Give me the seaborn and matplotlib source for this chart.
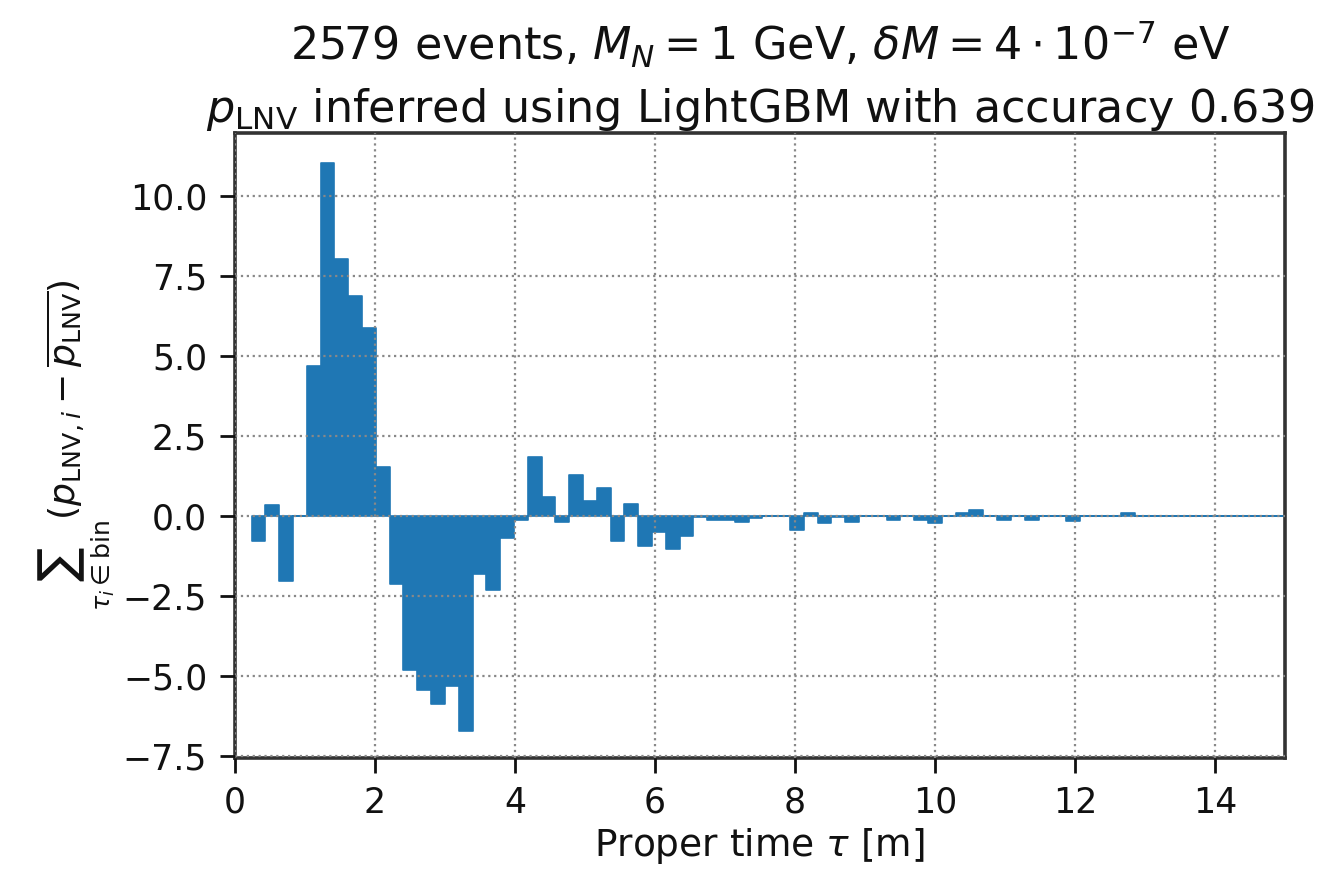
import numpy as np
import pandas as pd
import matplotlib
matplotlib.use("Agg")
import matplotlib.pyplot as plt
import seaborn as sns

# ---- data ----
tau_min = 0.238
tau_max = 15.03
n_bins = 75
bin_sums = [
    -0.80, 0.35, -2.04, 0.00, 4.68, 11.03, 8.03, 6.86, 5.87, 1.52,
    -2.15, -4.81, -5.46, -5.90, -5.32, -6.72, -1.82, -2.31, -0.70, -0.12,
    1.85, 0.60, -0.20, 1.28, 0.45, 0.87, -0.80, 0.36, -0.96, -0.51,
    -1.04, -0.62, -0.03, -0.12, -0.12, -0.21, -0.08, 0.00, 0.00, -0.46,
    0.08, -0.22, -0.05, -0.20, 0.00, 0.00, -0.13, 0.00, -0.12, -0.22,
    0.00, 0.08, 0.18, 0.00, -0.13, 0.00, -0.13, 0.00, 0.00, -0.15,
    0.00, 0.00, 0.00, 0.07, 0.00, 0.00, 0.00, 0.00, 0.00, 0.00,
    0.00, 0.00, 0.00, 0.00, 0.00,
]
title_text = (r"2579 events, $M_N = 1$ GeV, $\delta M = 4 \cdot 10^{-7}$ eV" "\n"
              r"$p_\mathrm{LNV}$ inferred using LightGBM with accuracy 0.639")
xlabel_text = r"Proper time $\tau$ [m]"
ylabel_text = r"$\sum_{\tau_i \in \mathrm{bin}}(p_{\mathrm{LNV},i} - \overline{p_\mathrm{LNV}})$"

bin_width = (tau_max - tau_min) / n_bins
centers = tau_min + bin_width * (np.arange(n_bins) + 0.5)
df = pd.DataFrame({"tau": centers, "w": bin_sums})

sns.set_style("ticks")
plt.rcParams["font.family"] = ["DejaVu Sans"]
plt.rcParams["mathtext.fontset"] = "dejavusans"

fig = plt.figure(figsize=(13.26, 8.72), dpi=100)
ax = fig.add_axes([0.1772, 0.131, 0.7918, 0.7165])

sns.histplot(data=df, x="tau", weights="w", binwidth=bin_width,
             binrange=(tau_min, tau_max), element="step",
             fill=True, color="#1f77b4", alpha=1.0, edgecolor="#1f77b4",
             linewidth=1.2, ax=ax)

ax.set_xlim(0, 15)
ax.set_ylim(-7.57, 11.97)
ax.set_xticks(np.arange(0, 15, 2))
ax.set_yticks(np.arange(-7.5, 10.01, 2.5))
ax.grid(True, linestyle=":", color="#888888", linewidth=1.6)
ax.set_axisbelow(False)

ax.tick_params(axis="both", labelsize=25, length=11, width=2, colors="#111111",
               pad=9)
ax.set_xlabel(xlabel_text, fontsize=27, labelpad=5, color="#111111")
ax.set_ylabel(ylabel_text, fontsize=26, labelpad=4, color="#111111")
ax.set_title(title_text, fontsize=32, linespacing=1.45, color="#111111", pad=8)
for s in ax.spines.values():
    s.set_linewidth(2.6)
    s.set_color("#333333")

fig.savefig("out.png", dpi=100)
